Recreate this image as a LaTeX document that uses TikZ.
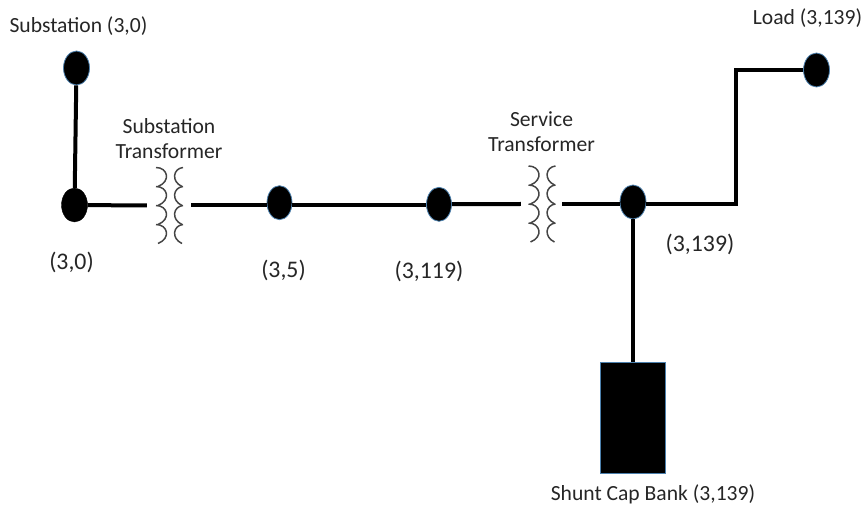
\documentclass[tikz,border=0pt]{standalone}
\usepackage{fontspec}
\setmainfont{Carlito}
\usepackage{tikz}
\usetikzlibrary{shapes}
\usetikzlibrary{positioning}
\definecolor{busedge}{rgb}{0.30,0.50,0.68}
\definecolor{coilgray}{rgb}{0.27,0.27,0.27}
\tikzstyle{bus}=[draw=black,fill=black,ellipse,minimum width=26pt,minimum height=34pt,inner sep=0]
\tikzstyle{busb}=[bus,draw=busedge,line width=0.8pt]
\tikzstyle{xfmr}=[minimum width=44pt,minimum height=76pt,inner sep=0]
\tikzstyle{capbank}=[draw=busedge,fill=black,line width=1pt,minimum width=65pt,minimum height=110pt,inner sep=0]
\tikzstyle{wire}=[line width=4pt,black]
\tikzstyle{coil}=[line width=1.5pt,coilgray]
\tikzstyle{lbl}=[font=\fontsize{21.6}{25}\selectfont,inner sep=0,align=center,text=black!85]
\tikzstyle{lblb}=[font=\fontsize{23.8}{24}\selectfont,inner sep=0,text=black!85]
\newcommand{\PQcoils}[1]{
  \foreach \k in {0,1,2,3} {
    \draw[coil,shift={(#1)},yshift=-\k*19pt]
      (-13pt,38pt) .. controls (-1pt,38pt) and (2pt,24pt) .. (-11pt,19pt);
    \draw[coil,shift={(#1)},yshift=-\k*19pt]
      (14pt,38pt) .. controls (4pt,37pt) and (2pt,24pt) .. (13pt,19pt);
  }
}
\begin{document}
\begin{tikzpicture}[x=1pt,y=1pt,node distance=100pt]
\path[use as bounding box] (0,0) rectangle (864,506);

\node[bus] (b1) at (74.5,301) {};
\node[busb,above of=b1,node distance=137pt,xshift=2pt] (b0) {};
\node[xfmr,right of=b1,node distance=94.5pt,yshift=-0.5pt] (t1) {};
\node[busb,minimum width=25pt,right of=t1,node distance=110.5pt,yshift=2.8pt] (b2) {};
\node[busb,minimum width=25pt,right of=b2,node distance=159.5pt,yshift=-1.6pt] (b3) {};
\node[xfmr,minimum width=41pt,right of=b3,node distance=102.5pt,yshift=0.3pt] (t2) {};
\node[busb,right of=t2,node distance=91.5pt,yshift=2pt] (b4) {};
\node[busb,right of=b4,node distance=183.5pt,yshift=132pt] (b5) {};
\node[capbank,below of=b4,node distance=216pt] (cap) {};
\coordinate (c1) at (736,302);
\coordinate (c2) at (736,436);

\node[lbl,above of=b0,node distance=42pt,xshift=2pt] {Substation (3,0)};
\node[lbl,above of=t1,node distance=67pt] {Substation\\Transformer};
\node[lbl,above of=t2,node distance=72pt] {Service\\Transformer};
\node[lbl,above of=b5,node distance=52pt,xshift=-9pt] {Load (3,139)};
\node[lbl,below of=cap,node distance=76pt,xshift=20pt] {Shunt Cap Bank (3,139)};
\node[lblb,below of=b1,node distance=57pt,xshift=-3pt] {(3,0)};
\node[lblb,below of=b2,node distance=68pt,xshift=4pt] {(3,5)};
\node[lblb,below of=b3,node distance=67pt,xshift=-10pt] {(3,119)};
\node[lblb,below of=b4,node distance=42pt,xshift=67pt] {(3,139)};

\PQcoils{t1.center}
\PQcoils{t2.center}

\draw[wire] (b0) -- (b1);
\draw[wire] (b1) -- (t1.west);
\draw[wire] (t1.east) -- (b2.west |- t1.east);
\draw[wire] (b2.east |- t1.east) -- (b3.west |- t1.east);
\draw[wire] (b3) -- (t2.west);
\draw[wire] (t2.east) -- (b4.west |- t2.east);
\draw[wire] (b4) -- (cap.north);
\draw[wire,line join=miter] (b4.east |- c1) -- (c1) -- (c2) -- (b5);
\end{tikzpicture}
\end{document}
